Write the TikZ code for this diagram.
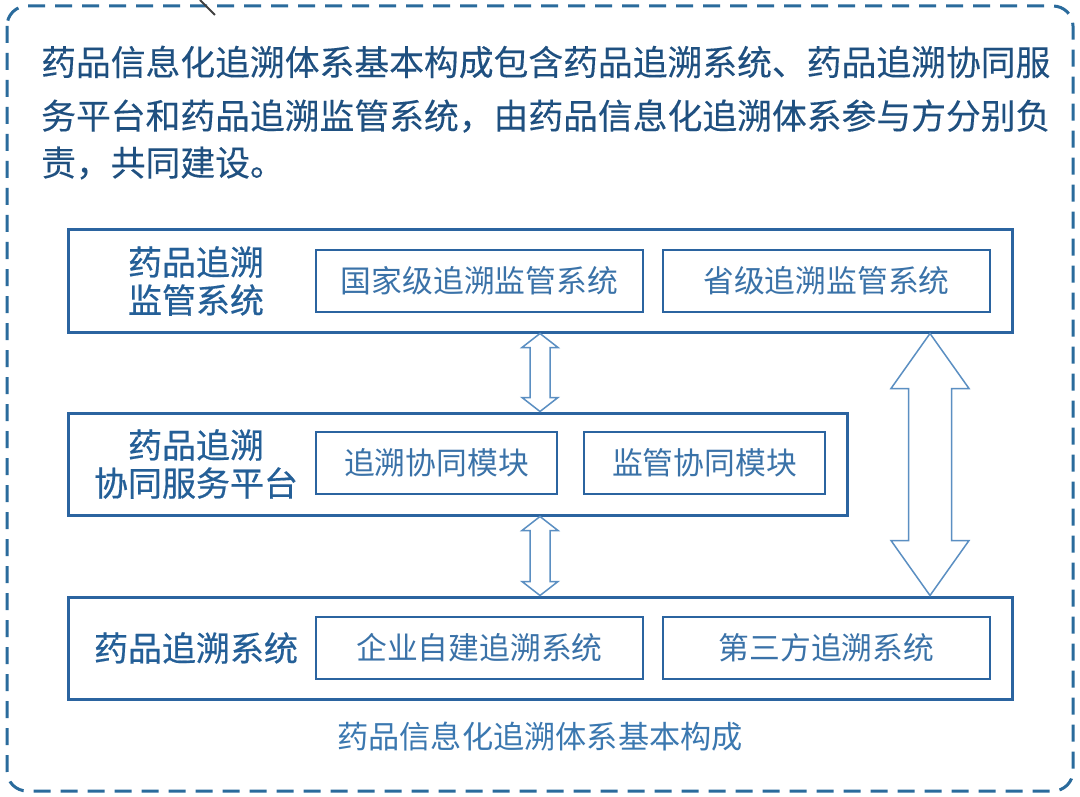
\documentclass[tikz,border=0pt]{standalone}
\usepackage{fontspec}
\usetikzlibrary{calc}
\newfontfamily\cjk{Noto Sans CJK SC}
\newfontfamily\cjkm[FakeBold=0.5]{Noto Sans CJK SC}
\newfontfamily\cjkp[FakeBold=0.2]{Noto Sans CJK SC}
\definecolor{dashblue}{HTML}{2A6B9C}
\definecolor{boxblue}{HTML}{2B64A0}
\definecolor{paratext}{HTML}{1F5080}
\definecolor{labeltext}{HTML}{245F97}
\definecolor{innertext}{HTML}{3A72A8}
\definecolor{captext}{HTML}{3B78B0}
\definecolor{arrowblue}{HTML}{5B8FC2}
\tikzset{
  outerbox/.style={draw=boxblue, line width=3pt, fill=white, inner sep=0pt},
  innerbox/.style={draw=boxblue, line width=1.4pt, fill=white, inner sep=0pt,
    minimum height=62pt, text=innertext, font=\cjk\fontsize{30.8pt}{34pt}\selectfont},
  labeltxt/.style={text=labeltext, align=center, inner sep=0pt,
    font=\cjkm\fontsize{34pt}{38pt}\selectfont},
  paratxt/.style={text=paratext, anchor=west, inner sep=0pt,
    font=\cjkp\fontsize{34.8pt}{40pt}\selectfont},
  blockarrow/.style={draw=arrowblue, line width=1.5pt, fill=white, line join=miter}
}
\newcommand{\dblarrow}[5]{%
  \draw[blockarrow] let \p1=(#1), \p2=(#2) in
    (\x1,\y1) -- (\x1+#4,\y1-#5) -- (\x1+#3,\y1-#5) -- (\x1+#3,\y2+#5)
    -- (\x1+#4,\y2+#5) -- (\x1,\y2) -- (\x1-#4,\y2+#5) -- (\x1-#3,\y2+#5)
    -- (\x1-#3,\y1-#5) -- (\x1-#4,\y1-#5) -- cycle;}
\begin{document}
\begin{tikzpicture}[x=1pt,y=-1pt]
\useasboundingbox[fill=white] (0,0) rectangle (1080,797);
% outer dashed frame
\draw[dashblue, line width=3pt, dash pattern=on 17pt off 10pt, rounded corners=20pt]
  (7,6) rectangle (1073,791);
% small mark at top
\draw[black!75, line width=2pt] (200,0) -- (215,15);
% paragraph
\node[paratxt] (p1) at (41,62) {药品信息化追溯体系基本构成包含药品追溯系统、药品追溯协同服};
\node[paratxt] (p2) at (41,116) {务平台和药品追溯监管系统，由药品信息化追溯体系参与方分别负};
\node[paratxt] (p3) at (41,163) {责，共同建设。};
% main boxes
\node[outerbox, minimum width=944pt, minimum height=102pt] (box1) at (540,281) {};
\node[outerbox, minimum width=779pt, minimum height=102pt] (box2) at (457.5,464) {};
\node[outerbox, minimum width=944pt, minimum height=102pt] (box3) at (540,648) {};
% labels
\node[labeltxt] (l1) at (196,281) {药品追溯\\监管系统};
\node[labeltxt] (l2) at (196,464) {药品追溯\\协同服务平台};
\node[labeltxt] (l3) at (196,648) {药品追溯系统};
% inner boxes
\node[innerbox, minimum width=327pt] (a1) at (479.5,281) {国家级追溯监管系统};
\node[innerbox, minimum width=327pt] (a2) at (826.5,281) {省级追溯监管系统};
\node[innerbox, minimum width=241pt] (b1) at (436.5,463) {追溯协同模块};
\node[innerbox, minimum width=241pt] (b2) at (704.5,463) {监管协同模块};
\node[innerbox, minimum width=327pt] (c1) at (479.5,648) {企业自建追溯系统};
\node[innerbox, minimum width=327pt] (c2) at (826.5,648) {第三方追溯系统};
% caption
\node[text=captext, inner sep=0pt, font=\cjk\fontsize{31.2pt}{34pt}\selectfont] (cap) at (540,737) {药品信息化追溯体系基本构成};
% arrows
\coordinate (xa) at (540,0);
\coordinate (xr) at (930,0);
\dblarrow{box1.south -| xa}{box2.north -| xa}{10}{18}{14}
\dblarrow{box2.south -| xa}{box3.north -| xa}{10}{18}{14}
\dblarrow{box1.south -| xr}{box3.north -| xr}{21.5}{39}{55}
\end{tikzpicture}
\end{document}
